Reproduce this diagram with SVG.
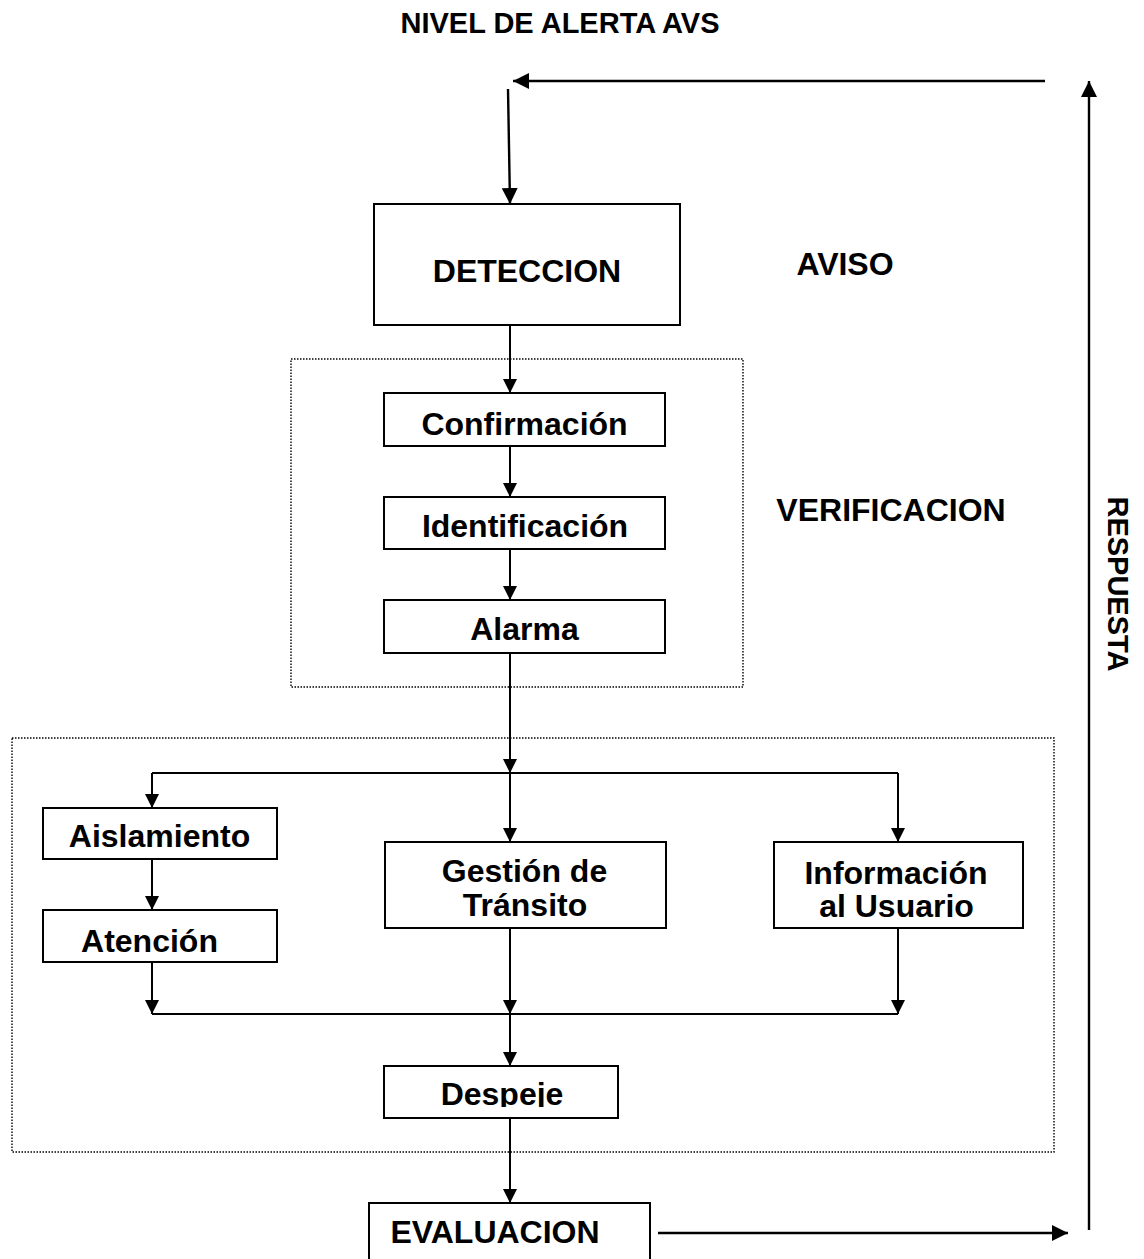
<svg xmlns="http://www.w3.org/2000/svg" width="1144" height="1259" viewBox="0 0 1144 1259">
<style>
  .box { fill: #fff; stroke: #000; stroke-width: 2; }
  .grp { fill: none; stroke: #000; stroke-width: 1.4; stroke-dasharray: 1.5 1.5; }
  .t { font-family: "Liberation Sans", Arial, sans-serif; font-weight: bold; font-size: 32px; fill: #000; text-anchor: middle; }
  .c { fill: none; stroke: #000; stroke-width: 2; }
  .a { fill: none; stroke: #000; stroke-width: 2; marker-end: url(#ah); }
  .A { fill: none; stroke: #000; stroke-width: 2.4; marker-end: url(#ahL); }
</style>
<defs>
  <marker id="ah" markerUnits="userSpaceOnUse" markerWidth="14" markerHeight="14" refX="14" refY="7" orient="auto">
    <path d="M0,0 L14,7 L0,14 z" fill="#000"/>
  </marker>
  <marker id="ahL" markerUnits="userSpaceOnUse" markerWidth="16" markerHeight="16" refX="16" refY="8" orient="auto">
    <path d="M0,0 L16,8 L0,16 z" fill="#000"/>
  </marker>
  <clipPath id="clipG"><rect x="385" y="842" width="281" height="76"/></clipPath>
  <clipPath id="clipI"><rect x="774" y="842" width="249" height="76"/></clipPath>
  <clipPath id="clipD"><rect x="384" y="1066" width="234" height="41"/></clipPath>
</defs>
<rect width="1144" height="1259" fill="#fff"/>

<g id="groups">
  <rect class="grp" x="291" y="359" width="452" height="328"/>
  <rect class="grp" x="12" y="738" width="1042" height="414"/>
</g>

<g id="labels">
  <text class="t" x="560" y="33" style="font-size:29px">NIVEL DE ALERTA AVS</text>
  <text class="t" x="845" y="275">AVISO</text>
  <text class="t" x="891" y="521">VERIFICACION</text>
  <text class="t" transform="translate(1108,584) rotate(90)" style="font-size:29px">RESPUESTA</text>
</g>

<g id="connectors">
  <line class="A" x1="1045" y1="81" x2="513" y2="81"/>
  <line class="A" x1="508" y1="89" x2="510" y2="204"/>
  <line class="a" x1="510" y1="325" x2="510" y2="393"/>
  <line class="a" x1="510" y1="446" x2="510" y2="497"/>
  <line class="a" x1="510" y1="549" x2="510" y2="600"/>
  <line class="a" x1="510" y1="653" x2="510" y2="773"/>
  <line class="c" x1="152" y1="773" x2="898" y2="773"/>
  <line class="a" x1="152" y1="773" x2="152" y2="808"/>
  <line class="a" x1="510" y1="773" x2="510" y2="842"/>
  <line class="a" x1="898" y1="773" x2="898" y2="842"/>
  <line class="a" x1="152" y1="859" x2="152" y2="910"/>
  <line class="a" x1="152" y1="962" x2="152" y2="1014"/>
  <line class="a" x1="510" y1="928" x2="510" y2="1014"/>
  <line class="a" x1="898" y1="928" x2="898" y2="1014"/>
  <line class="c" x1="152" y1="1014" x2="898" y2="1014"/>
  <line class="a" x1="510" y1="1014" x2="510" y2="1066"/>
  <line class="a" x1="510" y1="1118" x2="510" y2="1203"/>
  <line class="A" x1="658" y1="1233" x2="1068" y2="1233"/>
  <line class="A" x1="1089" y1="1230" x2="1089" y2="81"/>
</g>

<g id="detection">
  <rect class="box" x="374" y="204" width="306" height="121"/>
  <text class="t" x="527" y="282">DETECCION</text>
</g>
<g id="confirmacion">
  <rect class="box" x="384" y="393" width="281" height="53"/>
  <text class="t" x="524.5" y="435">Confirmación</text>
</g>
<g id="identificacion">
  <rect class="box" x="384" y="497" width="281" height="52"/>
  <text class="t" x="525" y="537">Identificación</text>
</g>
<g id="alarma">
  <rect class="box" x="384" y="600" width="281" height="53"/>
  <text class="t" x="524.5" y="640">Alarma</text>
</g>
<g id="aislamiento">
  <rect class="box" x="43" y="808" width="234" height="51"/>
  <text class="t" x="159.5" y="847">Aislamiento</text>
</g>
<g id="atencion">
  <rect class="box" x="43" y="910" width="234" height="52"/>
  <text class="t" x="149.5" y="952">Atención</text>
</g>
<g id="gestion">
  <rect class="box" x="385" y="842" width="281" height="86"/>
  <g clip-path="url(#clipG)">
    <text class="t" x="524.5" y="882">Gestión de</text>
    <text class="t" x="525" y="916">Tránsito</text>
  </g>
</g>
<g id="informacion">
  <rect class="box" x="774" y="842" width="249" height="86"/>
  <g clip-path="url(#clipI)">
    <text class="t" x="896" y="884">Información</text>
    <text class="t" x="896.5" y="917">al Usuario</text>
  </g>
</g>
<g id="despeje">
  <rect class="box" x="384" y="1066" width="234" height="52"/>
  <g clip-path="url(#clipD)">
    <text class="t" x="502" y="1105">Despeje</text>
  </g>
</g>
<g id="evaluacion">
  <rect class="box" x="369" y="1203" width="281" height="70"/>
  <text class="t" x="495" y="1243">EVALUACION</text>
</g>
</svg>
